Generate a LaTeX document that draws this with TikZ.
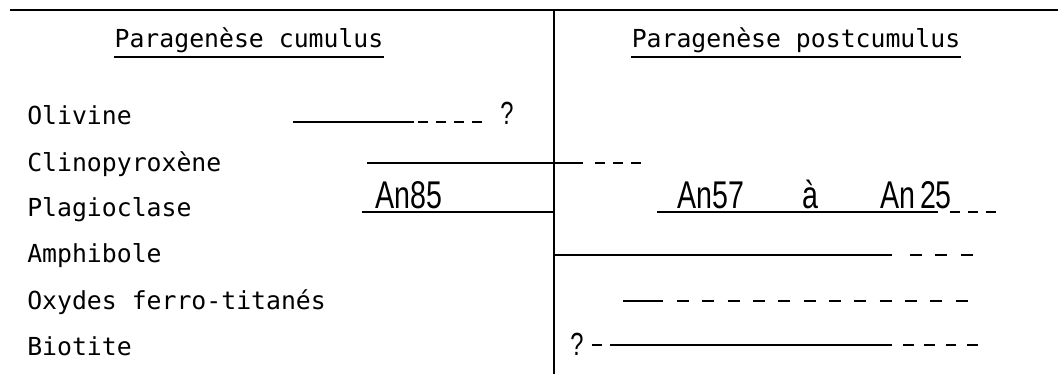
\documentclass[tikz,border=0pt]{standalone}
\usepackage{fontspec}
\usepackage{graphicx}
\newfontfamily\gothic{DejaVu Sans Mono}
\newfontfamily\lettering{Liberation Sans}
\begin{document}
\begin{tikzpicture}[x=0.75pt, y=-0.75pt,
  mono/.style={font=\fontsize{18.6}{22}\selectfont\gothic, inner sep=0pt, anchor=base west},
  anlabel/.style={font=\fontsize{29}{32}\selectfont\lettering, inner sep=0pt, anchor=base west},
  query/.style={font=\fontsize{24}{28}\selectfont\lettering, inner sep=0pt, anchor=base west},
  phase/.style={line width=1.6pt},
  trace/.style={line width=1.6pt, dash pattern=on 7.5pt off 6pt},
  sparse/.style={line width=1.6pt, dash pattern=on 9pt off 10pt}]

\useasboundingbox (0,0) rectangle (1058,374);

\coordinate (top left) at (10,10);
\coordinate (top right) at (1058,10);
\coordinate (split top) at (554,10);
\coordinate (split bottom) at (554,374);
\draw[line width=1.2pt] (top left) -- (top right);
\draw[line width=1.6pt] (split top) -- (split bottom);

\node[mono, anchor=base] (cumulus) at (249,48) {Paragenèse cumulus};
\node[mono, anchor=base] (postcumulus) at (796,48) {Paragenèse postcumulus};
\foreach \h in {cumulus, postcumulus}
  \draw[line width=1pt] ([yshift=-6.75pt]\h.base west) -- ([yshift=-6.75pt]\h.base east);

\foreach \n/\t/\y in {olivine/Olivine/125, clino/Clinopyroxène/172, plagio/Plagioclase/217,
    amphi/Amphibole/263, oxydes/Oxydes ferro-titanés/310, biotite/Biotite/355}
  \node[mono] (\n) at (27,\y) {\t};

% olivine
\coordinate (ol 0) at (293,122);
\coordinate (ol 1) at (414,122);
\coordinate (ol 2) at (418,122);
\coordinate (ol 3) at (488,122);
\node[query] (ol q) at (500,125) {\scalebox{0.74}[1]{?}};
\draw[phase] (ol 0) -- (ol 1);
\draw[trace] (ol 2) -- (ol 3);

% clinopyroxene
\coordinate (cpx 0) at (367,163);
\coordinate (cpx 1) at (583,163);
\coordinate (cpx 2) at (595,163);
\coordinate (cpx 3) at (645,163);
\draw[phase] (cpx 0) -- (cpx 1);
\draw[trace] (cpx 2) -- (cpx 3);

% plagioclase
\coordinate (pl 0) at (362,212);
\coordinate (pl 1) at (657,212);
\coordinate (pl 2) at (938,212);
\coordinate (pl 3) at (950,212);
\coordinate (pl 4) at (1002,212);
\draw[phase] (pl 0) -- (split top |- pl 0);
\draw[phase] (pl 1) -- (pl 2);
\draw[trace] (pl 3) -- (pl 4);
\node[anlabel] (an85) at (375,209) {\scalebox{0.74}[1]{An85}};
\node[anlabel] (an57) at (677,209) {\scalebox{0.74}[1]{An57}};
\node[anlabel] (a) at (802,209) {\scalebox{0.74}[1]{à}};
\node[anlabel] (an25) at (880,209) {\scalebox{0.74}[1]{An\,25}};

% amphibole
\coordinate (am 1) at (892,255);
\coordinate (am 2) at (910,255);
\coordinate (am 3) at (975,255);
\draw[phase] (split top |- am 1) -- (am 1);
\draw[sparse] (am 2) -- (am 3);

% oxydes
\coordinate (ox 0) at (623,301);
\coordinate (ox 1) at (663,301);
\coordinate (ox 2) at (677,301);
\coordinate (ox 3) at (972,301);
\draw[phase] (ox 0) -- (ox 1);
\draw[sparse] (ox 2) -- (ox 3);

% biotite
\node[query] (bi q) at (570,355) {\scalebox{0.74}[1]{?}};
\coordinate (bi 0) at (592,345);
\coordinate (bi 1) at (613,345);
\coordinate (bi 2) at (892,345);
\coordinate (bi 3) at (903,345);
\coordinate (bi 4) at (982,345);
\draw[trace] (bi 0) -- (bi 1);
\draw[phase] (bi 1) -- (bi 2);
\draw[trace, dash pattern=on 8pt off 8pt] (bi 3) -- (bi 4);
\end{tikzpicture}
\end{document}
